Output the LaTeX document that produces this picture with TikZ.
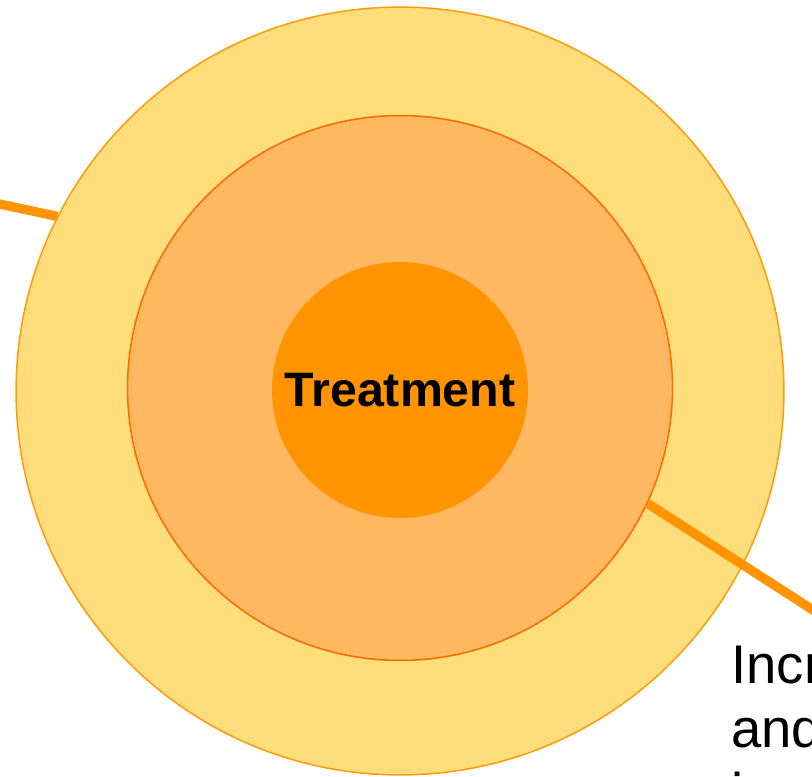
\documentclass[tikz,border=0pt]{standalone}
\usepackage{fontspec}
\setmainfont{Liberation Sans}
\usetikzlibrary{positioning, calc}
\usepackage{xcolor}
\definecolor{Ink}{HTML}{000000}
\definecolor{Halo}{HTML}{FEDD7A}
\definecolor{HaloLine}{HTML}{FF9A0A}
\definecolor{Ring}{HTML}{FFB860}
\definecolor{RingLine}{HTML}{FF6A00}
\definecolor{Core}{HTML}{FF9400}

\begin{document}
\begin{tikzpicture}[
            x=0.02cm, y=-0.02cm,
            zone/.style={
                circle,
                inner sep=0pt,
                line width=0.85pt
            },
            outerzone/.style={
                zone,
                draw=HaloLine,
                fill=Halo,
                minimum size=15.36cm
            },
            midzone/.style={
                zone,
                draw=RingLine,
                fill=Ring,
                minimum size=10.9cm
            },
            corezone/.style={
                zone,
                fill=Core,
                minimum size=5.12cm,
                font=\fontsize{27.5}{31}\selectfont\bfseries,
                text=Ink
            },
            leader/.style={line width=5.3pt, color=Core},
            note/.style={font=\fontsize{31}{36.3}\selectfont, text=Ink, align=left, inner sep=0pt}
        ]
            \clip (0,0) rectangle (812,777);

            \node[outerzone] (outer) at (400,391) {};
            \node[midzone] (mid) at (400,388) {};
            \node[corezone] (core) at (400,390) {Treatment};

            % Leader lines
            \coordinate (leftend) at (-10,202);
            \coordinate (rightend) at (830,621);
            \draw[leader] (leftend) -- (outer.153.7);
            \draw[leader] (mid.-25.3) -- (rightend);

            \node[note, anchor=north west] (label) at (731,646) {Incr\\and\\i};
        \end{tikzpicture}
\end{document}
